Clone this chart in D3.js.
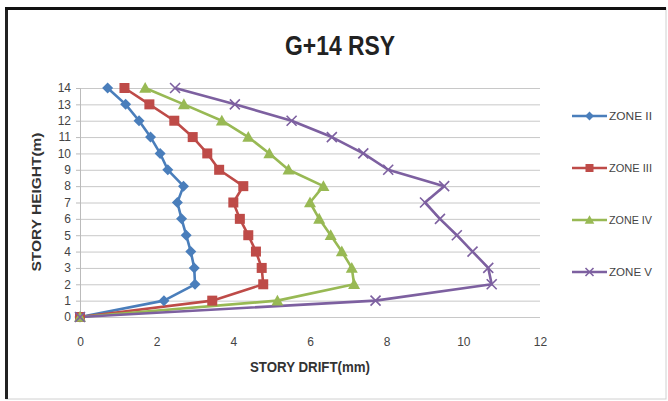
<!DOCTYPE html>
<html><head><meta charset="utf-8">
<script src="https://cdn.jsdelivr.net/npm/d3@7"></script>
<style>body{margin:0;background:#fff}svg{display:block}</style>
</head><body>
<svg id="c" width="668" height="401"></svg>
<script>
const stories = [0,1,2,3,4,5,6,7,8,9,10,11,12,13,14];
const zoneII  = [0,2.19,3.00,2.98,2.89,2.77,2.65,2.54,2.70,2.29,2.09,1.84,1.54,1.19,0.72];
const zoneIII = [0,3.45,4.78,4.74,4.59,4.39,4.17,4.00,4.26,3.63,3.32,2.94,2.46,1.81,1.16];
const zoneIV  = [0,5.15,7.15,7.09,6.83,6.54,6.24,6.00,6.35,5.44,4.94,4.39,3.70,2.71,1.70];
const zoneV   = [0,7.71,10.74,10.65,10.24,9.83,9.39,9.00,9.50,8.04,7.39,6.57,5.52,4.04,2.48];
const seriesNames = ["ZONE II","ZONE III","ZONE IV","ZONE V"];
const xTicks = [0,2,4,6,8,10,12];
const yTicks = [0,1,2,3,4,5,6,7,8,9,10,11,12,13,14];
const title = "G+14 RSY";
const xTitle = "STORY DRIFT(mm)";
const yTitle = "STORY HEIGHT(m)";

const colors = ["#4A7EBB","#BE4B48","#98B954","#7D60A0"];
const markers = ["diamond","square","triangle","x"];
const allSeries = [zoneII, zoneIII, zoneIV, zoneV];

const svg = d3.select("#c");
const font = "'Liberation Sans Narrow','Liberation Sans',Arial,sans-serif";

// frame
svg.append("rect").attr("x",6).attr("y",8).attr("width",660).attr("height",391)
  .attr("fill","#fff").attr("stroke","#d0d0d0").attr("stroke-width",1);
svg.append("line").attr("x1",6.5).attr("x2",6.5).attr("y1",7).attr("y2",399).attr("stroke","#222").attr("stroke-width",3);
svg.append("line").attr("x1",5).attr("x2",666).attr("y1",8.5).attr("y2",8.5).attr("stroke","#111").attr("stroke-width",3);

const x = d3.scaleLinear().domain([0,12]).range([80,540]);
const y = d3.scaleLinear().domain([0,14]).range([317,88]);

// gridlines
svg.append("g").selectAll("line").data(yTicks).join("line")
  .attr("x1",x(0)).attr("x2",x(12)).attr("y1",d=>y(d)+0.5).attr("y2",d=>y(d)+0.5)
  .attr("stroke","#c8c8c8").attr("stroke-width",1);

// y axis
const yAxis = svg.append("g").attr("transform",`translate(${x(0)},0)`)
  .call(d3.axisLeft(y).tickValues(yTicks).tickSize(4).tickPadding(5));
yAxis.select(".domain").attr("stroke","#bbb");
yAxis.selectAll(".tick line").attr("stroke","#bbb");
yAxis.selectAll("text").attr("font-family",font).attr("font-size",12).attr("fill","#444");

// x axis labels
const xAxis = svg.append("g").attr("transform",`translate(0,${y(0)})`)
  .call(d3.axisBottom(x).tickValues(xTicks).tickSize(0).tickPadding(20));
xAxis.select(".domain").remove();
xAxis.selectAll("text").attr("font-family",font).attr("font-size",12).attr("fill","#444");

// lines
const line = d3.line().x(d=>x(d[0])).y(d=>y(d[1]));
allSeries.forEach((s,i)=>{
  const pts = s.map((v,j)=>[v, stories[j]]);
  svg.append("path").datum(pts).attr("d",line).attr("fill","none")
    .attr("stroke",colors[i]).attr("stroke-width",2.6).attr("stroke-linejoin","round");
});

function drawMarker(g, type, cx, cy, color, scale=1){
  if(type==="diamond"){
    const r=5.5*scale;
    g.append("path").attr("d",`M${cx},${cy-r}L${cx+r},${cy}L${cx},${cy+r}L${cx-r},${cy}Z`).attr("fill",color);
  } else if(type==="square"){
    const r=5*scale;
    g.append("rect").attr("x",cx-r).attr("y",cy-r).attr("width",2*r).attr("height",2*r).attr("fill",color);
  } else if(type==="triangle"){
    const r=6*scale;
    g.append("path").attr("d",`M${cx},${cy-r}L${cx+r},${cy+r*0.8}L${cx-r},${cy+r*0.8}Z`).attr("fill",color);
  } else {
    const r=5*scale;
    g.append("path").attr("d",`M${cx-r},${cy-r}L${cx+r},${cy+r}M${cx-r},${cy+r}L${cx+r},${cy-r}`)
      .attr("stroke",color).attr("stroke-width",1.6).attr("fill","none");
  }
}
allSeries.forEach((s,i)=>{
  const g = svg.append("g");
  s.forEach((v,j)=>drawMarker(g, markers[i], x(v), y(stories[j]), colors[i]));
});

// legend
const lg = svg.append("g");
seriesNames.forEach((n,i)=>{
  const ly = 116 + i*52;
  lg.append("line").attr("x1",572).attr("x2",607).attr("y1",ly).attr("y2",ly).attr("stroke",colors[i]).attr("stroke-width",2.5);
  drawMarker(lg, markers[i], 589.5, ly, colors[i], 0.8);
  lg.append("text").attr("x",609).attr("y",ly+4).attr("font-family",font).attr("font-size",11)
    .attr("fill","#444").attr("textLength",43).attr("lengthAdjust","spacingAndGlyphs").text(n);
});

// titles
svg.append("text").attr("x",340).attr("y",55).attr("text-anchor","middle")
  .attr("font-family",font).attr("font-weight","bold").attr("font-size",27).attr("fill","#222")
  .attr("textLength",110).attr("lengthAdjust","spacingAndGlyphs").text(title);
svg.append("text").attr("x",310).attr("y",372).attr("text-anchor","middle")
  .attr("font-family",font).attr("font-weight","bold").attr("font-size",15).attr("fill","#333")
  .attr("textLength",120).attr("lengthAdjust","spacingAndGlyphs").text(xTitle);
svg.append("text").attr("transform","translate(41,202) rotate(-90)").attr("text-anchor","middle")
  .attr("font-family",font).attr("font-weight","bold").attr("font-size",13).attr("fill","#333")
  .attr("textLength",139).attr("lengthAdjust","spacingAndGlyphs").text(yTitle);
</script>
</body></html>
